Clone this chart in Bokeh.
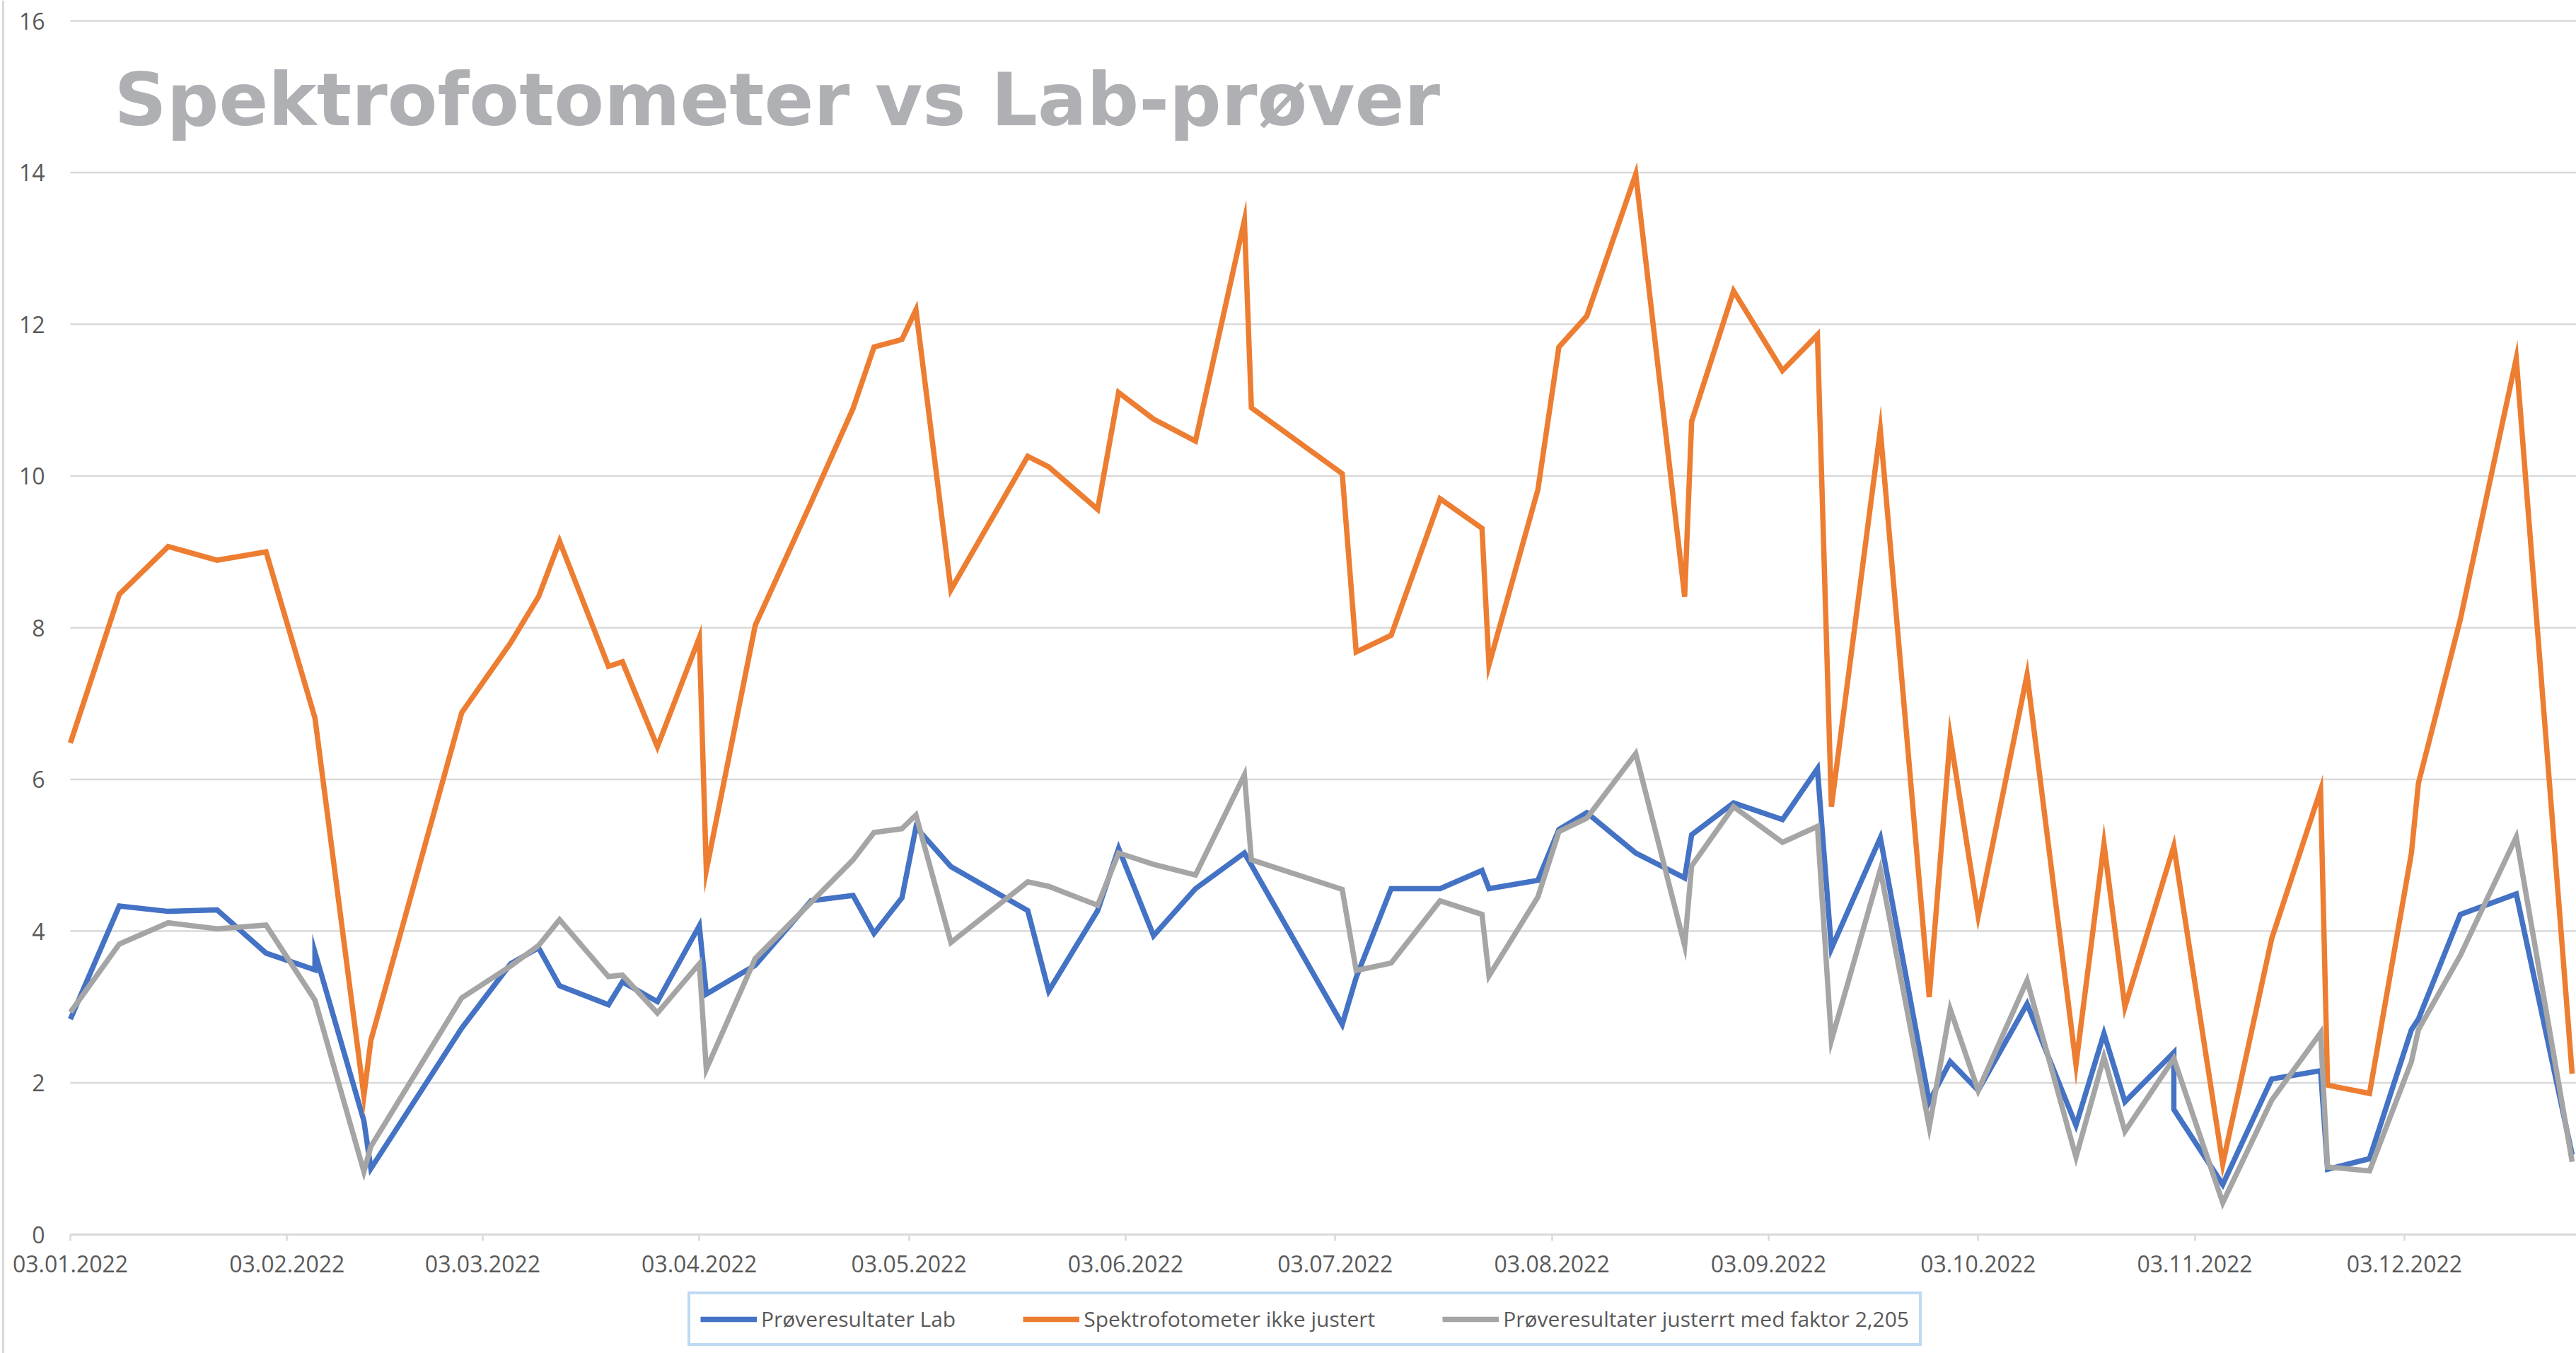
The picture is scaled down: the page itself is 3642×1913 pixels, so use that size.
import pandas as pd
from bokeh.plotting import figure
from bokeh.models import (Range1d, FixedTicker, DatetimeTickFormatter, Label,
                          Legend, LegendItem, ColumnDataSource, Span)
from bokeh.embed import file_html
from bokeh.resources import INLINE

# ---------------- data ----------------
TITLE = "Spektrofotometer vs Lab-prøver"
SERIES_NAMES = ["Prøveresultater Lab",
                "Spektrofotometer ikke justert",
                "Prøveresultater justerrt med faktor 2,205"]

DATES = [
    "2022-01-03", "2022-01-10", "2022-01-17", "2022-01-24", "2022-01-31",
    "2022-02-07", "2022-02-07", "2022-02-14", "2022-02-15", "2022-02-28",
    "2022-03-07", "2022-03-11", "2022-03-14", "2022-03-21", "2022-03-23",
    "2022-03-28", "2022-04-03", "2022-04-04", "2022-04-11", "2022-04-19",
    "2022-04-25", "2022-04-28", "2022-05-02", "2022-05-04", "2022-05-09",
    "2022-05-20", "2022-05-23", "2022-05-30", "2022-06-02", "2022-06-07",
    "2022-06-13", "2022-06-20", "2022-06-21", "2022-07-04", "2022-07-06",
    "2022-07-11", "2022-07-18", "2022-07-24", "2022-07-25", "2022-08-01",
    "2022-08-04", "2022-08-08", "2022-08-15", "2022-08-22", "2022-08-23",
    "2022-08-29", "2022-09-05", "2022-09-10", "2022-09-12", "2022-09-19",
    "2022-09-26", "2022-09-29", "2022-10-03", "2022-10-10", "2022-10-17",
    "2022-10-21", "2022-10-24", "2022-10-31", "2022-10-31", "2022-11-07",
    "2022-11-14", "2022-11-21", "2022-11-22", "2022-11-28", "2022-12-04",
    "2022-12-05", "2022-12-11", "2022-12-19", "2022-12-27",
]

LAB = [
    2.84, 4.33, 4.26, 4.28, 3.71,
    3.49, 3.72, 1.50, 0.87, 2.72,
    3.57, 3.78, 3.28, 3.03, 3.33,
    3.07, 4.07, 3.17, 3.55, 4.40,
    4.47, 3.97, 4.44, 5.37, 4.85,
    4.27, 3.21, 4.27, 5.09, 3.94,
    4.56, 5.03, 4.87, 2.77, 3.39,
    4.56, 4.56, 4.80, 4.56, 4.67,
    5.34, 5.56, 5.03, 4.70, 5.27,
    5.69, 5.47, 6.14, 3.77, 5.23,
    1.75, 2.28, 1.90, 3.04, 1.44,
    2.65, 1.75, 2.40, 1.65, 0.66,
    2.05, 2.16, 0.86, 1.00, 2.70,
    2.84, 4.22, 4.49, 1.05,
]

SPEKTRO = [
    6.48, 8.44, 9.07, 8.89, 9.00,
    6.81, 6.81, 1.83, 2.56, 6.88,
    7.80, 8.41, 9.14, 7.49, 7.55,
    6.43, 7.87, 4.80, 8.03, 9.65,
    10.89, 11.70, 11.80, 12.19, 8.50,
    10.26, 10.12, 9.56, 11.10, 10.75,
    10.46, 13.37, 10.90, 10.03, 7.68,
    7.90, 9.70, 9.31, 7.51, 9.82,
    11.70, 12.11, 13.98, 8.41, 10.72,
    12.44, 11.39, 11.86, 5.64, 10.61,
    3.13, 6.56, 4.20, 7.38, 2.24,
    5.15, 3.00, 5.12, 5.12, 0.93,
    3.90, 5.86, 1.97, 1.86, 5.03,
    5.95, 8.11, 11.55, 2.12,
]

JUSTERT = [
    2.93, 3.83, 4.11, 4.03, 4.08,
    3.09, 3.09, 0.83, 1.16, 3.12,
    3.54, 3.81, 4.15, 3.40, 3.42,
    2.92, 3.57, 2.18, 3.64, 4.38,
    4.94, 5.30, 5.35, 5.53, 3.85,
    4.65, 4.59, 4.34, 5.03, 4.88,
    4.74, 6.06, 4.94, 4.55, 3.48,
    3.58, 4.40, 4.22, 3.41, 4.45,
    5.31, 5.49, 6.34, 3.81, 4.86,
    5.64, 5.17, 5.38, 2.56, 4.81,
    1.42, 2.97, 1.90, 3.35, 1.02,
    2.34, 1.36, 2.32, 2.32, 0.42,
    1.77, 2.66, 0.89, 0.84, 2.28,
    2.70, 3.68, 5.24, 0.96,
]

X_TICK_LABELS = ["03.01.2022", "03.02.2022", "03.03.2022", "03.04.2022",
                 "03.05.2022", "03.06.2022", "03.07.2022", "03.08.2022",
                 "03.09.2022", "03.10.2022", "03.11.2022", "03.12.2022"]
Y_TICKS = [0, 2, 4, 6, 8, 10, 12, 14, 16]

# ---------------- layout constants (pixels) ----------------
BLUE, ORANGE, GRAY = "#4472C4", "#ED7D31", "#A5A5A5"
GRID = "#D9D9D9"
TXT = "#595959"
FONT = "Open Sans"

W, H = 3642, 1913
PLOT_LEFT = 99       # pixel column of the first date tick
TOP16 = 29           # pixel row of value 16
ZERO_Y = 1745        # pixel row of value 0
DAYS_SHOWN = 358.6   # days from first tick to right edge

px_per_unit = (ZERO_Y - TOP16) / 16.0
y_low = -(H - ZERO_Y) / px_per_unit
y_high = 16 + TOP16 / px_per_unit

DAY = 86400000.0
tick_ts = [pd.to_datetime(s, format="%d.%m.%Y") for s in X_TICK_LABELS]
tick_ms = [float(t.value // 10**6) for t in tick_ts]
x0 = tick_ms[0]
x_end = x0 + DAYS_SHOWN * DAY
px_per_day = (W - PLOT_LEFT) / DAYS_SHOWN
x_low = x0 - (PLOT_LEFT / px_per_day) * DAY

source = ColumnDataSource(dict(
    x=pd.to_datetime(DATES),
    lab=LAB, spektro=SPEKTRO, justert=JUSTERT,
))

p = figure(width=W, height=H, x_axis_type="datetime",
           output_backend="svg", toolbar_location=None,
           x_range=Range1d(x_low, x_end), y_range=Range1d(y_low, y_high),
           min_border_left=0, min_border_right=0,
           min_border_top=0, min_border_bottom=0)
p.outline_line_color = None
p.background_fill_color = "white"
p.border_fill_color = "white"

# chart-area border on the left edge
p.add_layout(Span(location=4, location_units="screen", dimension="height",
                  line_color=GRID, line_width=3))

# horizontal gridlines only across the plot area
p.xgrid.grid_line_color = None
p.ygrid.grid_line_color = None
p.segment(x0=[x0] * len(Y_TICKS), x1=[x_end] * len(Y_TICKS),
          y0=Y_TICKS, y1=Y_TICKS, line_color=GRID, line_width=2.5,
          level="underlay")

# y axis at first date
p.yaxis.fixed_location = x0
p.yaxis.ticker = FixedTicker(ticks=Y_TICKS)
p.yaxis.axis_line_color = None
p.yaxis.major_tick_line_color = None
p.yaxis.minor_tick_line_color = None
p.yaxis.major_tick_out = 0
p.yaxis.major_label_standoff = 36
p.yaxis.major_label_text_font = FONT
p.yaxis.major_label_text_font_size = "32px"
p.yaxis.major_label_text_color = TXT

# x axis at value 0
p.xaxis.fixed_location = 0
p.xaxis.bounds = (x0, x_end)
p.xaxis.ticker = FixedTicker(ticks=tick_ms)
fmt = "%d.%m.%Y"
p.xaxis.formatter = DatetimeTickFormatter(
    milliseconds=fmt, seconds=fmt, minsec=fmt, minutes=fmt, hourmin=fmt,
    hours=fmt, days=fmt, months=fmt, years=fmt)
p.xaxis.major_label_overrides = {m: l for m, l in zip(tick_ms, X_TICK_LABELS)}
p.xaxis.axis_line_color = GRID
p.xaxis.axis_line_width = 2.5
p.xaxis.major_tick_line_color = GRID
p.xaxis.major_tick_line_width = 2.5
p.xaxis.major_tick_in = 0
p.xaxis.major_tick_out = 9
p.xaxis.minor_tick_line_color = None
p.xaxis.major_label_standoff = 20
p.xaxis.major_label_text_font = FONT
p.xaxis.major_label_text_font_size = "32px"
p.xaxis.major_label_text_color = TXT

# lines
LW = 7.5
r_lab = p.line("x", "lab", source=source, line_color=BLUE, line_width=LW, line_join="miter")
r_spe = p.line("x", "spektro", source=source, line_color=ORANGE, line_width=LW, line_join="miter")
r_jus = p.line("x", "justert", source=source, line_color=GRAY, line_width=LW, line_join="miter")

# title inside plot
title = Label(x=161, y=1773, x_units="screen", y_units="screen", text=TITLE,
              text_font="DejaVu Sans", text_font_style="bold",
              text_font_size="103px", text_color="#AFB0B4",
              text_baseline="alphabetic", text_align="left")
p.add_layout(title)

# legend under the x axis
legend = Legend(items=[LegendItem(label=SERIES_NAMES[0], renderers=[r_lab]),
                       LegendItem(label=SERIES_NAMES[1], renderers=[r_spe]),
                       LegendItem(label=SERIES_NAMES[2], renderers=[r_jus])],
                orientation="horizontal", location=(972, 10))
legend.label_text_font = FONT
legend.label_text_font_size = "30px"
legend.label_text_color = TXT
legend.glyph_width = 80
legend.glyph_height = 30
legend.label_standoff = 6
legend.spacing = 95
legend.padding = 14
legend.margin = 0
legend.border_line_color = "#7DB6E8"
legend.border_line_width = 4
legend.background_fill_color = "white"
legend.background_fill_alpha = 1.0
p.add_layout(legend, "center")

open("out.html", "w").write(file_html(p, INLINE))
